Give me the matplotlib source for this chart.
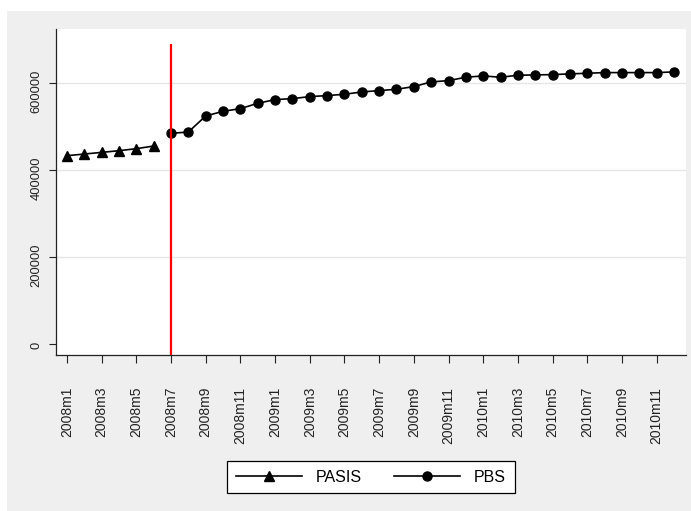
import matplotlib
matplotlib.use('Agg')
import matplotlib.pyplot as plt
import matplotlib.transforms as mtransforms
from matplotlib.patches import Rectangle

plt.rcParams['font.family'] = ['Liberation Sans', 'DejaVu Sans']
plt.rcParams['xtick.major.pad'] = 17.5
plt.rcParams['ytick.major.pad'] = 4.5

# month index 0 = 2008m1
months = [f"{y}m{m}" for y in (2008, 2009, 2010) for m in range(1, 13)]
pasis_x = list(range(0, 6))
pasis = [432800, 436600, 440400, 444300, 448900, 455000]
pbs_x = list(range(6, 36))
pbs = [484200, 487200, 524100, 534800, 541000, 553200, 561700, 564000,
       568600, 570900, 574000, 579300, 582400, 585500, 591600, 602400,
       605400, 613100, 616200, 613100, 617700, 618500, 619200, 620800,
       622300, 623800, 623800, 623800, 623800, 625400]
cutoff = 6          # 2008m7
cutoff_top = 690000
yticks = [0, 200000, 400000, 600000]

fig = plt.figure(figsize=(6.91, 5.11), dpi=100)
fig.patch.set_facecolor('white')
fig.patches.append(Rectangle((7 / 691, 0), 1 - 7 / 691, 500 / 511,
                             transform=fig.transFigure, facecolor='#efefef',
                             edgecolor='none', zorder=-5))

ax = fig.add_axes([56 / 691, 156 / 511, 630 / 691, 326 / 511])
ax.set_facecolor('white')

ax.plot(pasis_x, pasis, color='black', lw=1.2, marker='^', ms=6.5,
        label='PASIS', zorder=3)
ax.plot(pbs_x, pbs, color='black', lw=1.2, marker='o', ms=6.5,
        label='PBS', zorder=3)
ax.vlines(cutoff, -30000, cutoff_top, color='red', lw=1.6, zorder=4)

ax.set_xlim(-0.63, 35.69)
ax.set_ylim(-25300, 724000)

ax.set_xticks(range(0, 36, 2))
ax.set_xticklabels(months[0:36:2], rotation=90, va='top', ha='center')
ax.set_yticks(yticks)
ax.set_yticklabels([str(v) for v in yticks], rotation=90, va='center')

ax.tick_params(axis='x', length=5.4, width=0.8, pad=17.5, labelsize=10,
               colors='#222222')
ax.tick_params(axis='y', length=5, width=0.8, pad=4.5, labelsize=9.3,
               colors='#222222')

# y labels sit a little below their ticks, like the original
for lab in ax.get_yticklabels():
    shift = -1.35 * len(lab.get_text()) / 100
    lab.set_transform(lab.get_transform() +
                      mtransforms.ScaledTranslation(0, shift, fig.dpi_scale_trans))

for y in yticks[1:]:
    ax.axhline(y, color='#e6e6e6', lw=1, zorder=1)

for side in ('top', 'right'):
    ax.spines[side].set_visible(False)
for side in ('left', 'bottom'):
    ax.spines[side].set_color('#222222')
    ax.spines[side].set_linewidth(0.9)

leg = fig.legend(loc='center', bbox_to_anchor=(371 / 691, 1 - 477 / 511),
                 ncol=2, fontsize=11.5, handlelength=4.1, handletextpad=0.9,
                 columnspacing=2.0, borderpad=0.55, fancybox=False,
                 frameon=True, edgecolor='black', facecolor='white',
                 framealpha=1)
leg.get_frame().set_linewidth(0.9)

plt.savefig('out.png', dpi=100)
